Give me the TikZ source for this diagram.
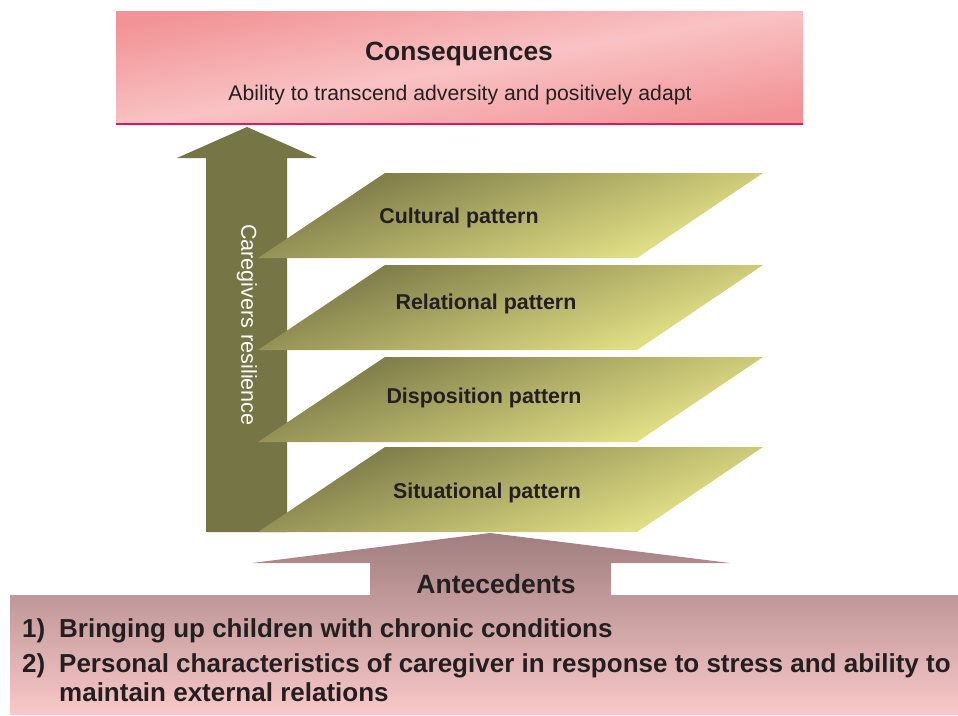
\documentclass[tikz,border=0pt]{standalone}
\usepackage{fontspec}
\setmainfont{Liberation Sans}
\usetikzlibrary{positioning}

\definecolor{txtdark}{RGB}{35,31,32}
\definecolor{arrowolive}{RGB}{118,117,69}
\definecolor{planedark}{RGB}{118,116,68}
\definecolor{planelight}{RGB}{236,234,140}
\definecolor{pinkdark}{RGB}{242,148,151}
\definecolor{pinklight}{RGB}{249,194,196}
\definecolor{lineberry}{RGB}{212,28,98}
\definecolor{mauvetop}{RGB}{160,126,127}
\definecolor{mauvebot}{RGB}{250,200,201}

\begin{document}
\begin{tikzpicture}[x=1pt, y=-1pt,
  every node/.style = {inner sep=0pt, text=txtdark},
  plane/.style = {top color=planedark, bottom color=planelight, shading angle=20},
  planelabel/.style = {font=\fontsize{21.4}{24}\selectfont\bfseries},
  itemlabel/.style = {anchor=base west, font=\fontsize{26}{30}\selectfont\bfseries}]
  \useasboundingbox (0,0) rectangle (958,715);

  % consequences box
  \shade[top color=pinkdark, bottom color=pinkdark, middle color=pinklight,
    shading angle=10] (116,11) rectangle (803,124);
  \draw[lineberry, line width=1.6pt] (116,124) -- (803,124);
  \node[font=\fontsize{26.4}{30}\selectfont\bfseries] (conseq) at (459,54) {Consequences};
  \node[font=\fontsize{21.2}{24}\selectfont] (ability) at (460,95)
    {Ability to transcend adversity and positively adapt};

  % resilience arrow
  \fill[arrowolive] (206,532) -- (206,158) -- (177,158) -- (247,127)
    -- (317,158) -- (287,158) -- (287,532) -- cycle;
  \node[rotate=-90, text=white, font=\fontsize{21.6}{24}\selectfont]
    (resilience) at (247,325) {Caregivers resilience};

  % pattern planes
  \foreach \name/\ty/\lx/\ly/\txt in {cultural/173/459/218/Cultural pattern,
      relational/265/486/304/Relational pattern,
      disposition/357/484/398/Disposition pattern,
      situational/447/487/493/Situational pattern} {
    \shade[plane] (385,\ty) -- (763,\ty) -- (637,\ty+85) -- (258,\ty+85) -- cycle;
    \node[planelabel] (\name) at (\lx,\ly) {\txt};
  }

  % antecedents
  \shade[top color=mauvetop, bottom color=mauvebot]
    (10,595) -- (370,595) -- (370,563) -- (252,563) -- (490,533) -- (730,563)
    -- (611,563) -- (611,595) -- (958,595) -- (958,715) -- (10,715) -- cycle;
  \node[font=\fontsize{26.5}{30}\selectfont\bfseries, anchor=base] (antec) at (496,593) {Antecedents};
  \node[itemlabel] (num1) at (22,637) {1)};
  \node[itemlabel] (item1) at (59,637) {Bringing up children with chronic conditions};
  \node[itemlabel] (num2) at (22,672) {2)};
  \node[itemlabel] (item2) at (59,672) {Personal characteristics of caregiver in response to stress and ability to};
  \node[itemlabel] (item2b) at (59,701) {maintain external relations};
\end{tikzpicture}
\end{document}
